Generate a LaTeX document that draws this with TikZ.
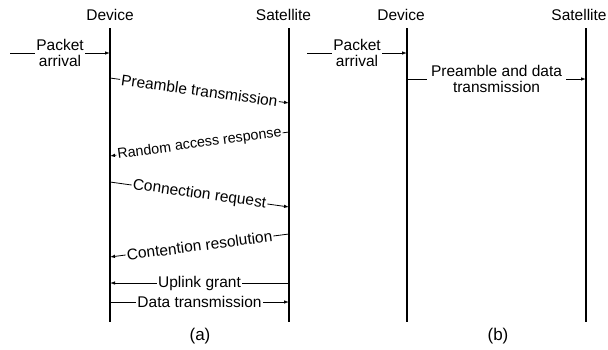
\documentclass[tikz,border=0pt]{standalone}
\usepackage{fontspec}
\setmainfont{Liberation Sans}
\usetikzlibrary{arrows.meta}

\begin{document}
\begin{tikzpicture}[
  x=1pt, y=-1pt,
  font=\fontsize{15.5}{16}\selectfont,
  >={Latex[length=5pt,width=3.5pt]},
  life/.style={line width=1.6pt},
  msg/.style={line width=0.8pt},
  lbl/.style={fill=white, inner sep=1.2pt, align=center},
  subcap/.style={font=\fontsize{17}{18}\selectfont}
]
\useasboundingbox (0,0) rectangle (608,349);

% heads
\node (devA) at (110,15) {Device};
\node (satA) at (283.5,15) {Satellite};
\node (devB) at (401,15) {Device};
\node (satB) at (579,15) {Satellite};
\node[subcap] (capA) at (200,336) {(a)};
\node[subcap] (capB) at (498,336) {(b)};

% lifelines
\coordinate (devAtop) at (110,28);   \coordinate (devAbot) at (110,322);
\coordinate (satAtop) at (289,28);   \coordinate (satAbot) at (289,322);
\coordinate (devBtop) at (407,28);   \coordinate (devBbot) at (407,322);
\coordinate (satBtop) at (586,28);   \coordinate (satBbot) at (586,322);
\draw[life] (devAtop) -- (devAbot);
\draw[life] (satAtop) -- (satAbot);
\draw[life] (devBtop) -- (devBbot);
\draw[life] (satBtop) -- (satBbot);

% (a) random access
\coordinate (paA) at (10,53);    \coordinate (paAend) at (110,53);
\coordinate (m1s) at (110,78);   \coordinate (m1e) at (289,103);
\coordinate (m2s) at (289,132);  \coordinate (m2e) at (110,156);
\coordinate (m3s) at (110,182);  \coordinate (m3e) at (289,207);
\coordinate (m4s) at (289,234);  \coordinate (m4e) at (110,257);
\coordinate (m5s) at (289,283);  \coordinate (m5e) at (110,283);
\coordinate (m6s) at (110,302);  \coordinate (m6e) at (289,302);

\draw[msg,->] (paA) -- node[lbl] {Packet\\arrival} (paAend);
\draw[msg,->] (m1s) -- node[lbl,sloped] {Preamble transmission} (m1e);
\draw[msg,->] (m2s) -- node[lbl,sloped,font=\fontsize{14.3}{16}\selectfont] {Random access response} (m2e);
\draw[msg,->] (m3s) -- node[lbl,sloped] {Connection request} (m3e);
\draw[msg,->] (m4s) -- node[lbl,sloped] {Contention resolution} (m4e);
\draw[msg,->] (m5s) -- node[lbl] {Uplink grant} (m5e);
\draw[msg,->] (m6s) -- node[lbl] {Data transmission} (m6e);

% (b) two-step
\coordinate (paB) at (307,53);   \coordinate (paBend) at (407,53);
\coordinate (n1s) at (407,79);   \coordinate (n1e) at (586,79);
\draw[msg,->] (paB) -- node[lbl] {Packet\\arrival} (paBend);
\draw[msg,->] (n1s) -- node[lbl,inner sep=4pt] {Preamble and data\\transmission} (n1e);

\end{tikzpicture}
\end{document}
